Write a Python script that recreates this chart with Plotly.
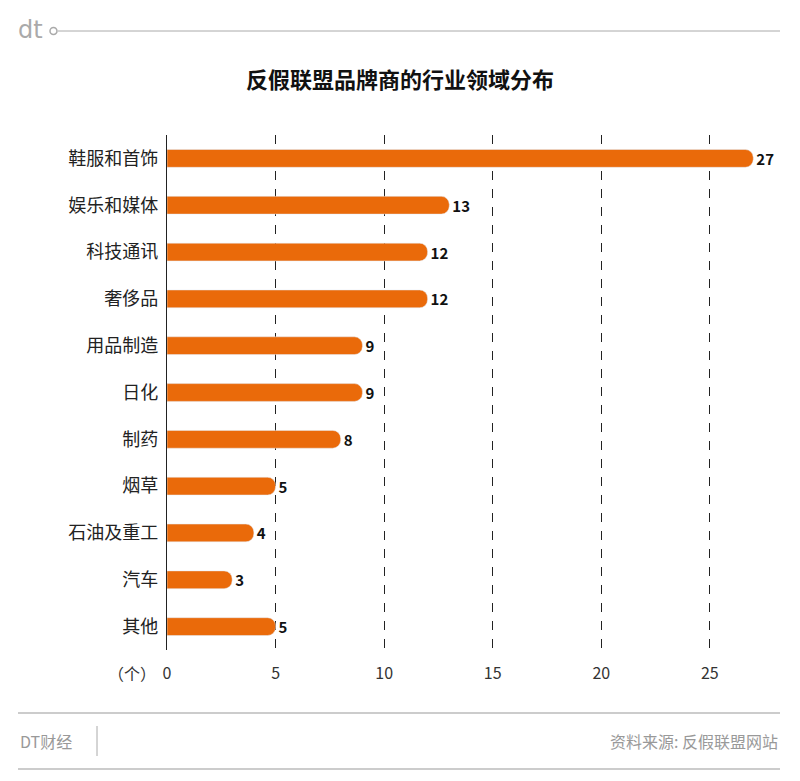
import plotly.graph_objects as go

categories = ["鞋服和首饰","娱乐和媒体","科技通讯","奢侈品","用品制造","日化","制药","烟草","石油及重工","汽车","其他"]
values = [27,13,12,12,9,9,8,5,4,3,5]
tick_vals = [0,5,10,15,20,25]

F = "Noto Sans CJK SC"
O = 8  # page offset
L, T, R, B = 167 - O, 135 - O, 25 + O, 131 + O
PW, PH = 800 - L - R, 781 - T - B
def px(x): return (x - O - L) / PW
def py(y): return 1 - (y - O - T) / PH

fig = go.Figure(go.Bar(
    y=categories, x=values, orientation="h",
    marker=dict(color="#EA6A0A", cornerradius=8),
    width=0.38,
    text=["<b>%d</b>" % v for v in values], textposition="outside", constraintext="none",
    textfont=dict(family=F, size=15, color="#111"), cliponaxis=False,
))
fig.update_layout(
    width=800, height=781, plot_bgcolor="white", paper_bgcolor="white",
    margin=dict(l=L, r=R, t=T, b=B),
    showlegend=False,
    xaxis=dict(range=[0,28], tickvals=tick_vals, showgrid=True, gridcolor="#222",
               griddash="dash", gridwidth=1, zeroline=False, showline=False,
               tickfont=dict(family=F, size=16, color="#333"), ticks="", ticklen=0,
               ticklabelstandoff=12),
    yaxis=dict(autorange="reversed", showline=True, linecolor="#222", linewidth=1,
               tickfont=dict(family=F, size=18, color="#222"), ticks="", ticksuffix=" "),
    font=dict(family=F),
)
def ann(text, x, y, xanchor="center", size=16, color="#999", family=F):
    fig.add_annotation(text=text, xref="paper", yref="paper", x=px(x), y=py(y), xanchor=xanchor,
                       yanchor="middle", showarrow=False, font=dict(size=size, color=color, family=family))
def line(x0, y0, x1, y1, color="#999"):
    fig.add_shape(type="line", xref="paper", yref="paper", x0=px(x0), x1=px(x1), y0=py(y0), y1=py(y1),
                  line=dict(color=color, width=1))
ann("<b>反假联盟品牌商的行业领域分布</b>", 400, 78, size=22, color="#111")
ann("（个）", 158, 673, xanchor="right", color="#333")
ann("dt", 16, 30, xanchor="left", size=24, color="#aaa", family="DejaVu Sans")
line(58, 31, 780, 31, "#aaa")
fig.add_shape(type="circle", xref="paper", yref="paper", x0=px(50), x1=px(57), y0=py(27.5), y1=py(34.5),
              line=dict(color="#aaa", width=1.5))
line(18, 713, 780, 713)
line(18, 769, 780, 769)
line(97, 726, 97, 756, "#aaa")
ann("DT财经", 18, 741, xanchor="left")
ann("资料来源: 反假联盟网站", 780, 741, xanchor="right")
fig.write_html("out.html")
